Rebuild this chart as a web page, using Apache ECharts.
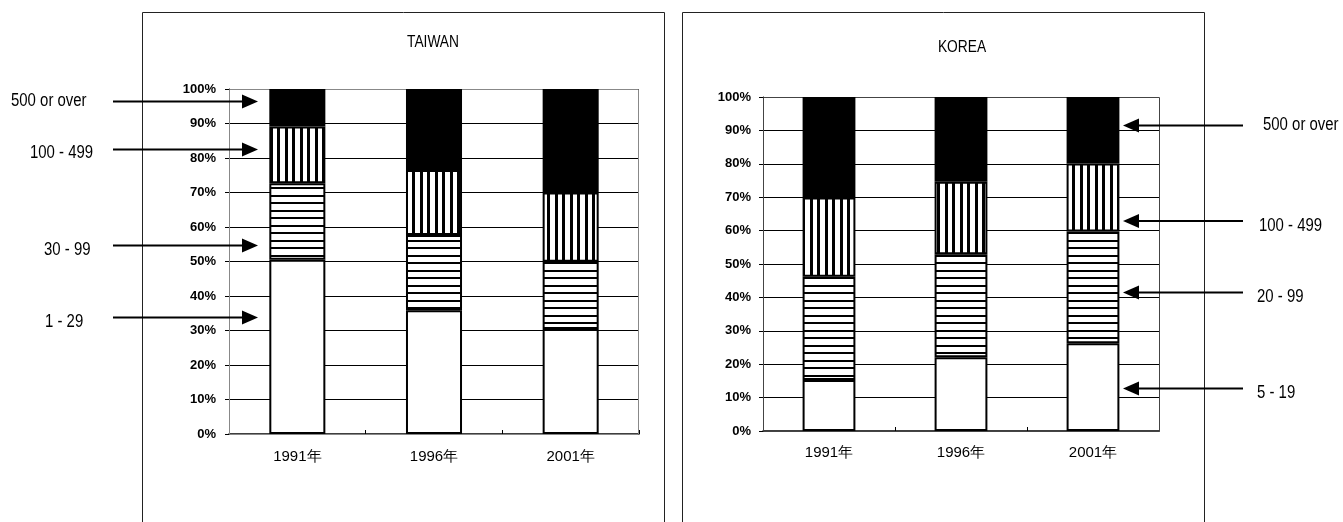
<!DOCTYPE html>
<html>
<head>
<meta charset="utf-8">
<script src="https://cdn.jsdelivr.net/npm/echarts@6/dist/echarts.min.js"></script>
<style>
  html, body { margin: 0; padding: 0; background: #fff; }
  #chart { width: 1343px; height: 522px; }
</style>
</head>
<body>
<div id="chart"></div>
<script>
// Share of establishments by size class (number of employees), stacked to 100%
const years = ['1991年', '1996年', '2001年'];
const yTicks = [0, 10, 20, 30, 40, 50, 60, 70, 80, 90, 100];

const taiwanClasses = ['1 - 29', '30 - 99', '100 - 499', '500 or over'];
const taiwan_1_29 = [50.5, 35.9, 30.4];
const taiwan_30_99 = [22.2, 21.8, 19.5];
const taiwan_100_499 = [16.4, 18.8, 20.1];
const taiwan_500 = [10.9, 23.5, 30.0];

const koreaClasses = ['5 - 19', '20 - 99', '100 - 499', '500 or over'];
const korea_5_19 = [15.3, 22.1, 26.3];
const korea_20_99 = [30.9, 30.8, 33.4];
const korea_100_499 = [23.7, 21.7, 20.4];
const korea_500 = [30.1, 25.4, 19.9];

// hatch fills: horizontal and vertical stripes (two stripes per 15px tile)
function stripes(vertical) {
  const c = document.createElement('canvas');
  c.width = 15; c.height = 15;
  const g = c.getContext('2d');
  g.fillStyle = '#fff';
  g.fillRect(0, 0, 15, 15);
  g.fillStyle = '#000';
  if (vertical) {
    g.fillRect(0, 0, 3, 15);
    g.fillRect(7, 0, 3, 15);
  } else {
    g.fillRect(0, 0, 15, 2);
    g.fillRect(0, 7, 15, 2);
  }
  return { image: c, repeat: 'repeat' };
}
const fills = ['#ffffff', stripes(false), stripes(true), '#000000'];

const axisFont = "'Liberation Sans', Arial, sans-serif";

function makeSeries(name, data, idx, axisIdx, stackName, barWidth) {
  return {
    name: name,
    type: 'bar',
    stack: stackName,
    xAxisIndex: axisIdx,
    yAxisIndex: axisIdx,
    data: data,
    barWidth: barWidth,
    itemStyle: { color: fills[idx], borderColor: '#000', borderWidth: 2 },
    emphasis: { disabled: true },
    animation: false
  };
}

function xAxis(gridIndex, margin) {
  return {
    type: 'category',
    gridIndex: gridIndex,
    data: years,
    axisLine: { lineStyle: { color: '#000', width: 1.5 } },
    axisTick: { show: true, inside: true, length: 4, interval: 0, alignWithLabel: false, lineStyle: { color: '#000' } },
    axisLabel: { color: '#000', fontSize: 15, fontFamily: axisFont, margin: margin }
  };
}

function yAxis(gridIndex, margin) {
  return {
    type: 'value',
    gridIndex: gridIndex,
    min: yTicks[0],
    max: yTicks[yTicks.length - 1],
    interval: 10,
    axisLine: { show: true, lineStyle: { color: '#000', width: 1 } },
    axisTick: { show: true, length: 4, lineStyle: { color: '#000' } },
    axisLabel: { color: '#000', fontSize: 13, fontWeight: 'bold', fontFamily: axisFont, margin: margin, formatter: '{value}%' },
    splitLine: { show: true, lineStyle: { color: '#000', width: 1 } }
  };
}

// annotation arrows pointing at the size-class segments
function arrowLeft(y) {
  return [
    { type: 'line', shape: { x1: 113, y1: y, x2: 244, y2: y }, style: { stroke: '#000', lineWidth: 2 }, z: 100 },
    { type: 'polygon', shape: { points: [[242, y - 7], [258, y], [242, y + 7]] }, style: { fill: '#000' }, z: 100 }
  ];
}
function arrowRight(y) {
  return [
    { type: 'line', shape: { x1: 1243, y1: y, x2: 1137, y2: y }, style: { stroke: '#000', lineWidth: 2 }, z: 100 },
    { type: 'polygon', shape: { points: [[1139, y - 7], [1123, y], [1139, y + 7]] }, style: { fill: '#000' }, z: 100 }
  ];
}
// condensed-looking label: regular sans squeezed horizontally
function note(text, x, y) {
  return { type: 'text', x: x, y: y, z: 100, scaleX: 0.83, scaleY: 1,
    style: { text: text, fill: '#000', font: '18px ' + axisFont, textVerticalAlign: 'middle', textAlign: 'left' } };
}
function title(text, x, y) {
  return { type: 'text', x: x, y: y, z: 100, scaleX: 0.86, scaleY: 1,
    style: { text: text, fill: '#000', font: '16px ' + axisFont, textAlign: 'center', textVerticalAlign: 'middle' } };
}

const graphics = [
  { type: 'rect', shape: { x: 142.5, y: 12.5, width: 522, height: 530 }, style: { fill: 'none', stroke: '#222', lineWidth: 1 }, z: 90 },
  { type: 'rect', shape: { x: 682.5, y: 12.5, width: 522, height: 530 }, style: { fill: 'none', stroke: '#222', lineWidth: 1 }, z: 90 },
  { type: 'rect', shape: { x: 229.5, y: 89.5, width: 409, height: 345 }, style: { fill: 'none', stroke: '#888', lineWidth: 1 }, z: 1 },
  { type: 'rect', shape: { x: 763.5, y: 97.5, width: 396, height: 334 }, style: { fill: 'none', stroke: '#444', lineWidth: 1 }, z: 1 },
  title('TAIWAN', 433, 43),
  title('KOREA', 962, 48),
  note(taiwanClasses[3], 11, 101),
  note(taiwanClasses[2], 30, 153),
  note(taiwanClasses[1], 44, 250),
  note(taiwanClasses[0], 45, 322),
  note(koreaClasses[3], 1263, 125),
  note(koreaClasses[2], 1259, 226),
  note(koreaClasses[1], 1257, 297),
  note(koreaClasses[0], 1257, 393)
]
  .concat(arrowLeft(101.5), arrowLeft(149.5), arrowLeft(245.5), arrowLeft(317.5))
  .concat(arrowRight(125.5), arrowRight(221), arrowRight(292.5), arrowRight(388.5));

const chart = echarts.init(document.getElementById('chart'), null, { renderer: 'canvas' });
chart.setOption({
  animation: false,
  backgroundColor: '#fff',
  grid: [
    { left: 229, top: 89, width: 410, height: 345, containLabel: false },
    { left: 763, top: 97, width: 396, height: 334, containLabel: false }
  ],
  xAxis: [xAxis(0, 15), xAxis(1, 14)],
  yAxis: [yAxis(0, 13), yAxis(1, 12)],
  series: [
    makeSeries(taiwanClasses[0], taiwan_1_29, 0, 0, 'tw', '41%'),
    makeSeries(taiwanClasses[1], taiwan_30_99, 1, 0, 'tw', '41%'),
    makeSeries(taiwanClasses[2], taiwan_100_499, 2, 0, 'tw', '41%'),
    makeSeries(taiwanClasses[3], taiwan_500, 3, 0, 'tw', '41%'),
    makeSeries(koreaClasses[0], korea_5_19, 0, 1, 'kr', '40%'),
    makeSeries(koreaClasses[1], korea_20_99, 1, 1, 'kr', '40%'),
    makeSeries(koreaClasses[2], korea_100_499, 2, 1, 'kr', '40%'),
    makeSeries(koreaClasses[3], korea_500, 3, 1, 'kr', '40%')
  ],
  graphic: graphics
});
</script>
</body>
</html>
